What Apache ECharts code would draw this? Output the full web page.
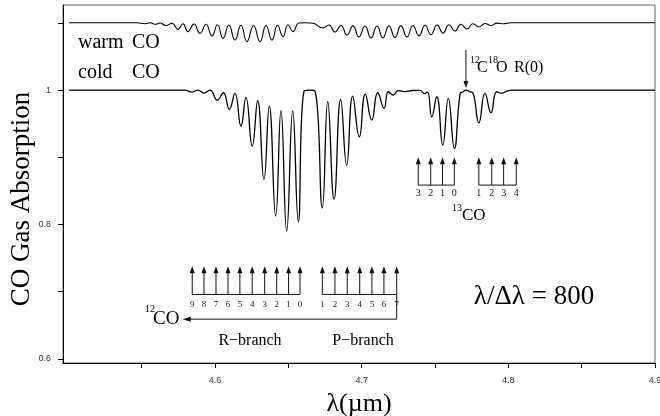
<!DOCTYPE html>
<html>
<head>
<meta charset="utf-8">
<script src="https://cdn.jsdelivr.net/npm/echarts@6/dist/echarts.min.js"></script>
<style>
html, body { margin: 0; padding: 0; background: #fff; }
#main { width: 660px; height: 416px; }
</style>
</head>
<body>
<div id="main"></div>
<script>
// cold CO spectrum (wavelength in micron, absorption)
var coldLambda = [4.5005, 4.5795, 4.5843, 4.5884, 4.5925, 4.5966, 4.6016, 4.6057, 4.6098, 4.6136,
  4.6177, 4.6211, 4.6254, 4.6291, 4.6334, 4.6370, 4.6414, 4.6450, 4.6489, 4.6530,
  4.6568, 4.6607, 4.6644, 4.6682, 4.6732, 4.6769, 4.6812, 4.6857, 4.6898, 4.6939,
  4.6984, 4.7025, 4.7069, 4.7110, 4.7153, 4.7182, 4.7216, 4.7248, 4.7296, 4.7344,
  4.7398, 4.7429, 4.7449, 4.7478, 4.7512, 4.7553, 4.7591, 4.7632, 4.7671, 4.7691,
  4.7712, 4.7736, 4.7758, 4.7799, 4.7841, 4.7882, 4.7921, 4.7955, 4.7989, 4.8032, 4.9000];
var coldAbs = [1.000, 1.000, 0.997, 1.000, 0.9955, 1.000, 0.9851, 0.9960, 0.9713, 0.9951,
  0.9464, 0.9891, 0.9167, 0.9841, 0.8671, 0.9762, 0.8125, 0.9692, 0.7906, 0.9692,
  0.8040, 0.9985, 1.000, 0.9985, 0.8249, 0.9826, 0.8378, 0.9862, 0.8884, 0.9911,
  0.9305, 0.9940, 0.9554, 0.9960, 0.9728, 0.9975, 0.9926, 0.9990, 0.9978, 0.9993,
  0.9996, 0.9948, 0.9970, 0.9603, 0.9900, 0.9182, 0.9876, 0.9132, 0.9940, 0.9975,
  1.000, 0.9975, 0.9960, 0.9513, 0.9951, 0.9662, 0.9975, 0.9951, 0.9985, 1.000, 1.000];

// warm CO spectrum (offset by +0.1)
var warmLambda = [4.5005, 4.5468, 4.5523, 4.5557, 4.5591, 4.5625, 4.5666, 4.5707, 4.5748, 4.5782,
  4.5816, 4.5857, 4.5898, 4.5939, 4.5980, 4.6017, 4.6055, 4.6095, 4.6136, 4.6177,
  4.6218, 4.6263, 4.6307, 4.6348, 4.6389, 4.6426, 4.6464, 4.6498, 4.6532, 4.6573,
  4.6620, 4.6668, 4.6736, 4.6777, 4.6818, 4.6859, 4.6900, 4.6941, 4.6982, 4.7023,
  4.7064, 4.7105, 4.7145, 4.7186, 4.7227, 4.7268, 4.7309, 4.7350, 4.7391, 4.7432,
  4.7473, 4.7514, 4.7555, 4.7595, 4.7636, 4.7677, 4.7718, 4.7759, 4.7800, 4.7841,
  4.7882, 4.7923, 4.7964, 4.8020, 4.9000];
var warmAbs = [1.1, 1.1, 1.0987, 1.1, 1.0978, 1.0997, 1.0960, 1.0993, 1.0903, 1.0987,
  1.0868, 1.0982, 1.0844, 1.0978, 1.0804, 1.0972, 1.0769, 1.0967, 1.0744, 1.0963,
  1.0719, 1.0960, 1.0719, 1.0960, 1.0744, 1.0963, 1.0793, 1.0972, 1.0868, 1.0997,
  1.1, 1.0993, 1.0923, 1.0967, 1.0863, 1.0960, 1.0818, 1.0955, 1.0789, 1.0952,
  1.0774, 1.0952, 1.0774, 1.0955, 1.0781, 1.0958, 1.0789, 1.0960, 1.0804, 1.0963,
  1.0826, 1.0967, 1.0848, 1.0972, 1.0878, 1.0978, 1.0908, 1.0985, 1.0938, 1.0990,
  1.0960, 1.0995, 1.0985, 1.1, 1.1];

// line positions
var r12coLambda = [4.5845, 4.5925, 4.6007, 4.6089, 4.6170, 4.6254, 4.6339, 4.6421, 4.6502, 4.6580];
var r12coJ = [9, 8, 7, 6, 5, 4, 3, 2, 1, 0];
var p12coLambda = [4.6732, 4.6818, 4.6902, 4.6987, 4.7070, 4.7152, 4.7239];
var p12coJ = [1, 2, 3, 4, 5, 6, 7];
var r13coLambda = [4.7386, 4.7471, 4.7551, 4.7632];
var r13coJ = [3, 2, 1, 0];
var p13coLambda = [4.7799, 4.7887, 4.7968, 4.8054];
var p13coJ = [1, 2, 3, 4];
var c18oLambda = 4.7711;

var xTicks = [4.55, 4.6, 4.65, 4.7, 4.75, 4.8, 4.85, 4.9];
var xLabels = [4.6, 4.7, 4.8, 4.9];
var yTicks = [0.6, 0.7, 0.8, 0.9, 1, 1.1];
var yLabels = [0.6, 0.8, 1];

var serif = "'Liberation Serif', 'Times New Roman', serif";
var ink = '#111';

var combs = [
  {lam: r12coLambda, J: r12coJ, top: 0.738, base: 0.696, gap: 10, size: 9},
  {lam: p12coLambda, J: p12coJ, top: 0.738, base: 0.696, gap: 10, size: 9},
  {lam: r13coLambda, J: r13coJ, top: 0.900, base: 0.8586, gap: 8, size: 10},
  {lam: p13coLambda, J: p13coJ, top: 0.900, base: 0.8586, gap: 8, size: 10}
];

function headUp(p) {
  return {type: 'polygon', shape: {points: [[p[0], p[1]], [p[0] - 2.5, p[1] + 7], [p[0] + 2.5, p[1] + 7]]}, style: {fill: ink}};
}
function seg(a, b) {
  return {type: 'line', shape: {x1: a[0], y1: a[1], x2: b[0], y2: b[1]}, style: {stroke: ink, lineWidth: 1}};
}

function renderAnno(params, api) {
  var i = params.dataIndex;
  var kids = [];
  if (i < combs.length) {
    var c = combs[i];
    for (var k = 0; k < c.lam.length; k++) {
      var t = api.coord([c.lam[k], c.top]);
      var b = api.coord([c.lam[k], c.base]);
      kids.push(seg([t[0], t[1] + 5], b));
      kids.push(headUp(t));
      kids.push({type: 'text', x: b[0], y: b[1] + c.gap, style: {text: String(c.J[k]), font: c.size + 'px ' + serif, fill: '#222', align: 'center', verticalAlign: 'middle'}});
    }
    var b0 = api.coord([c.lam[0], c.base]);
    var b1 = api.coord([c.lam[c.lam.length - 1], c.base]);
    kids.push(seg(b0, b1));
    if (i === 1) {
      // long arrow back to the 12CO label
      var corner = api.coord([c.lam[c.lam.length - 1], 0.6592]);
      var tip = api.coord([4.578, 0.6592]);
      kids.push(seg(b1, corner));
      kids.push(seg(corner, [tip[0] + 6, tip[1]]));
      kids.push({type: 'polygon', shape: {points: [[tip[0], tip[1]], [tip[0] + 8, tip[1] - 2.5], [tip[0] + 8, tip[1] + 2.5]]}, style: {fill: ink}});
    }
  } else {
    var a = api.coord([c18oLambda, 1.0595]);
    var d = api.coord([c18oLambda, 1.003]);
    kids.push(seg(a, [d[0], d[1] - 5]));
    kids.push({type: 'polygon', shape: {points: [[d[0], d[1]], [d[0] - 2.5, d[1] - 7], [d[0] + 2.5, d[1] - 7]]}, style: {fill: ink}});
  }
  return {type: 'group', children: kids};
}

function pairs(xs, ys) {
  return xs.map(function (x, i) { return [x, ys[i]]; });
}

var chart = echarts.init(document.getElementById('main'));
chart.setOption({
  animation: false,
  grid: {left: 63, right: 5, top: 5, bottom: 53, outerBoundsMode: 'none', show: true, borderColor: '#666', borderWidth: 1},
  xAxis: {
    type: 'value', min: 4.4964, max: 4.9,
    name: 'λ(µm)', nameLocation: 'middle', nameGap: 28,
    nameTextStyle: {fontFamily: serif, fontSize: 26, color: '#000'},
    axisLine: {lineStyle: {color: '#000'}},
    axisTick: {customValues: xTicks, length: 5, lineStyle: {color: '#000'}},
    axisLabel: {customValues: xLabels, margin: 13, fontSize: 9, color: '#333', fontFamily: "'Liberation Sans', Arial, sans-serif"},
    splitLine: {show: false}
  },
  yAxis: {
    type: 'value', min: 0.594, max: 1.1265,
    axisLine: {lineStyle: {color: '#000'}},
    axisTick: {customValues: yTicks, length: 5, lineStyle: {color: '#000'}},
    axisLabel: {customValues: yLabels, margin: 12, fontSize: 9, color: '#333', fontFamily: "'Liberation Sans', Arial, sans-serif"},
    splitLine: {show: false}
  },
  series: [
    {type: 'line', data: pairs(coldLambda, coldAbs), smooth: 0.5, showSymbol: false, symbol: 'none',
      lineStyle: {color: '#000', width: 1.3}},
    {type: 'line', data: pairs(warmLambda, warmAbs), smooth: 0.5, showSymbol: false, symbol: 'none',
      lineStyle: {color: '#000', width: 1.1}},
    {type: 'custom', renderItem: renderAnno, clip: false,
      data: [[4.6, 0.7], [4.7, 0.7], [4.75, 0.9], [4.8, 0.9], [4.77, 1.05]]}
  ],
  graphic: [
    {type: 'text', x: 22, y: 199, rotation: Math.PI / 2, style: {text: 'CO Gas Absorption', font: '27px ' + serif, fill: '#000', align: 'center', verticalAlign: 'middle'}},
    {type: 'text', x: 78, y: 43, style: {text: 'warm', font: '20px ' + serif, fill: '#000', verticalAlign: 'middle'}},
    {type: 'text', x: 132, y: 43, style: {text: 'CO', font: '20px ' + serif, fill: '#000', verticalAlign: 'middle'}},
    {type: 'text', x: 78, y: 73, style: {text: 'cold', font: '20px ' + serif, fill: '#000', verticalAlign: 'middle'}},
    {type: 'text', x: 132, y: 73, style: {text: 'CO', font: '20px ' + serif, fill: '#000', verticalAlign: 'middle'}},
    {type: 'text', x: 470, y: 60, style: {text: '12', font: '10px ' + serif, fill: '#000', verticalAlign: 'middle'}},
    {type: 'text', x: 477, y: 68, style: {text: 'C', font: '16px ' + serif, fill: '#000', verticalAlign: 'middle'}},
    {type: 'text', x: 488, y: 60, style: {text: '18', font: '10px ' + serif, fill: '#000', verticalAlign: 'middle'}},
    {type: 'text', x: 496, y: 68, style: {text: 'O', font: '16px ' + serif, fill: '#000', verticalAlign: 'middle'}},
    {type: 'text', x: 514, y: 68, style: {text: 'R(0)', font: '16px ' + serif, fill: '#000', verticalAlign: 'middle'}},
    {type: 'text', x: 452, y: 208, style: {text: '13', font: '10px ' + serif, fill: '#000', verticalAlign: 'middle'}},
    {type: 'text', x: 462, y: 216, style: {text: 'CO', font: '17px ' + serif, fill: '#000', verticalAlign: 'middle'}},
    {type: 'text', x: 145, y: 309, style: {text: '12', font: '10px ' + serif, fill: '#000', verticalAlign: 'middle'}},
    {type: 'text', x: 153, y: 319, style: {text: 'CO', font: '19px ' + serif, fill: '#000', verticalAlign: 'middle'}},
    {type: 'text', x: 250, y: 341, style: {text: 'R\u2212branch', font: '16px ' + serif, fill: '#000', align: 'center', verticalAlign: 'middle'}},
    {type: 'text', x: 363, y: 341, style: {text: 'P\u2212branch', font: '16px ' + serif, fill: '#000', align: 'center', verticalAlign: 'middle'}},
    {type: 'text', x: 534, y: 297, style: {text: 'λ/Δλ = 800', font: '27px ' + serif, fill: '#000', align: 'center', verticalAlign: 'middle'}}
  ]
});
</script>
</body>
</html>
